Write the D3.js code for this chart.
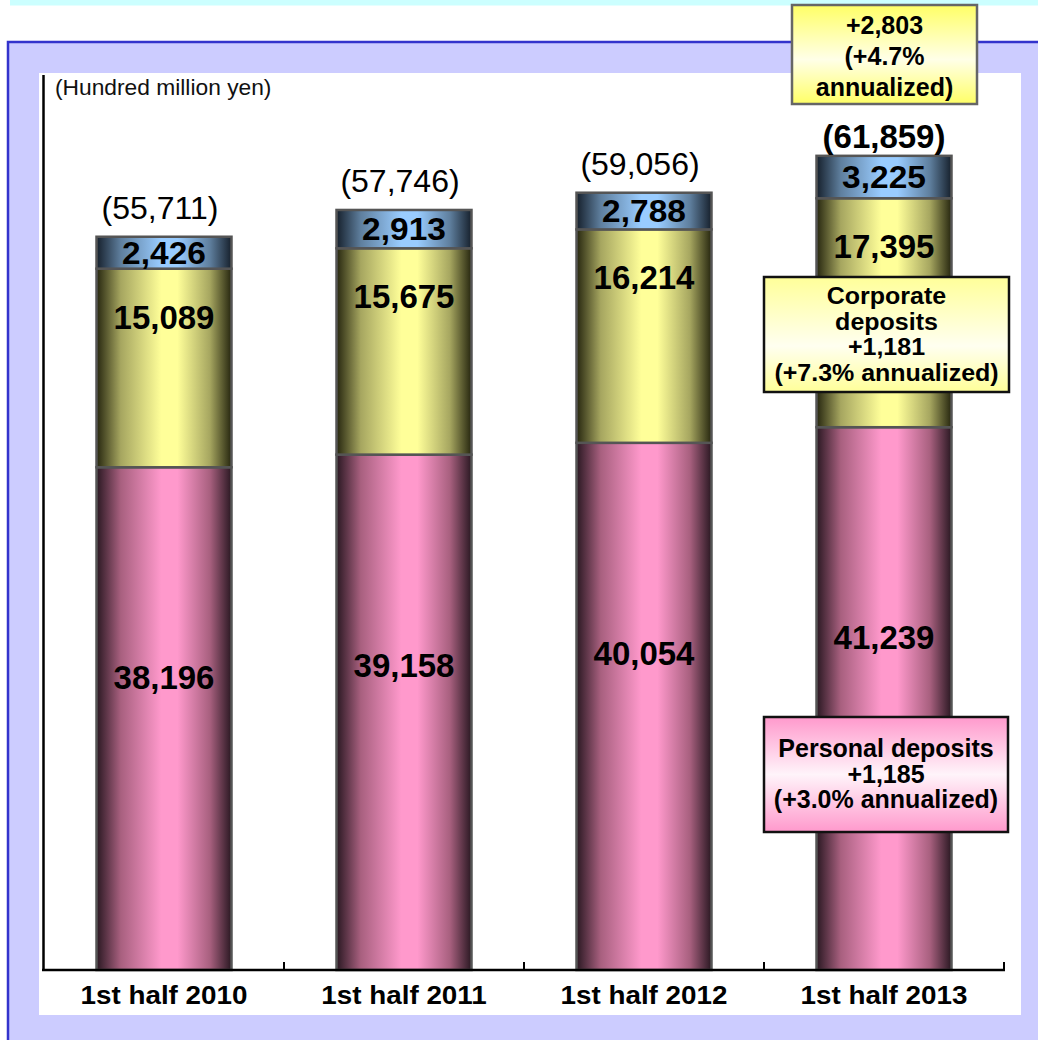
<!DOCTYPE html>
<html>
<head>
<meta charset="utf-8">
<script src="https://cdn.jsdelivr.net/npm/d3@7"></script>
<style>
  html, body { margin: 0; padding: 0; background: #ffffff; }
  svg { display: block; }
  text { font-family: "Liberation Sans", Arial, Helvetica, sans-serif; }
</style>
</head>
<body>
<svg id="chart" width="1038" height="1040"></svg>
<script>
// Deposit balances by half year (hundred million yen)
const categories = ["1st half 2010", "1st half 2011", "1st half 2012", "1st half 2013"];
const personal   = [38196, 39158, 40054, 41239];
const corporate  = [15089, 15675, 16214, 17395];
const other      = [2426, 2913, 2788, 3225];
const totals     = [55711, 57746, 59056, 61859];
const seriesKeys = ["personal", "corporate", "other"];
const unitLabel  = "(Hundred million yen)";

// Annotation texts for the latest half year
const totalNote     = ["+2,803", "(+4.7%", "annualized)"];
const corporateNote = ["Corporate", "deposits", "+1,181", "(+7.3% annualized)"];
const personalNote  = ["Personal deposits", "+1,185", "(+3.0% annualized)"];

const fmt = d3.format(",");
const svg = d3.select("#chart");
const defs = svg.append("defs");

// Cylinder-like horizontal shading for each series
const shades = {
  personal:  { light: "#ff99cc", mid: "#a8607f", dark: "#2a1822" },
  corporate: { light: "#ffff99", mid: "#a6a660", dark: "#26260f" },
  other:     { light: "#99ccff", mid: "#5f7f9e", dark: "#16202c" }
};
Object.entries(shades).forEach(([k, c]) => {
  const g = defs.append("linearGradient").attr("id", "grad-" + k)
    .attr("x1", "0%").attr("x2", "100%").attr("y1", "0%").attr("y2", "0%");
  [[0, c.dark], [0.18, c.mid], [0.48, c.light], [0.6, c.light], [0.84, c.mid], [1, c.dark]]
    .forEach(([o, col]) => g.append("stop").attr("offset", o).attr("stop-color", col));
});

// Vertical gradients for the note boxes
function vGrad(id, edge, centre, at) {
  const g = defs.append("linearGradient").attr("id", id)
    .attr("x1", "0%").attr("x2", "0%").attr("y1", "0%").attr("y2", "100%");
  [[0, edge], [at, centre], [1, edge]]
    .forEach(([o, col]) => g.append("stop").attr("offset", o).attr("stop-color", col));
}
vGrad("note-total", "#ffff66", "#ffffe8", 0.55);
vGrad("note-corp", "#ffff99", "#fffff0", 0.6);
vGrad("note-pers", "#ff99cc", "#fff4fa", 0.5);

// Page background decoration
svg.append("rect").attr("x", 10).attr("y", 0).attr("width", 1028).attr("height", 5.5).attr("fill", "#ccffff");
svg.append("rect").attr("x", 8).attr("y", 42).attr("width", 1040).attr("height", 1010)
  .attr("fill", "#ccccff").attr("stroke", "#3333cc").attr("stroke-width", 2.5);
svg.append("rect").attr("x", 39).attr("y", 73).attr("width", 982).attr("height", 942).attr("fill", "#ffffff");

// Scales
const x = d3.scaleBand().domain(categories).range([44, 1004]).paddingInner(0.4375).paddingOuter(0.21875);
const y = d3.scaleLinear().domain([0, 68000]).range([970, 75]);

const rows = categories.map((c, i) => ({ cat: c, personal: personal[i], corporate: corporate[i], other: other[i] }));
const stacked = d3.stack().keys(seriesKeys)(rows);

// Bars
const g = svg.append("g");
stacked.forEach(layer => {
  g.selectAll(null).data(layer).join("rect")
    .attr("x", d => x(d.data.cat))
    .attr("width", x.bandwidth())
    .attr("y", d => y(d[1]))
    .attr("height", d => y(d[0]) - y(d[1]))
    .attr("fill", `url(#grad-${layer.key})`)
    .attr("stroke", "#555555")
    .attr("stroke-width", 2.5);
});

// Helper for text that is slightly widened
function label(parent, txt, cx, baseline, size, weight, sx) {
  return parent.append("text")
    .attr("transform", `translate(${cx},${baseline}) scale(${sx || 1},1)`)
    .attr("text-anchor", "middle")
    .attr("font-size", size)
    .attr("font-weight", weight)
    .attr("fill", "#000")
    .text(txt);
}

// Segment value labels
const lg = svg.append("g");
stacked.forEach(layer => {
  layer.forEach((d, i) => {
    const cx = x(d.data.cat) + x.bandwidth() / 2;
    const v = d[1] - d[0];
    let base;
    if (layer.key === "personal") base = y(d[1]) + 222;
    else if (layer.key === "corporate") base = y(d[1]) + 60;
    else base = (y(d[0]) + y(d[1])) / 2 + 11;
    if (layer.key === "other") label(lg, fmt(v), cx, base, 31, "bold", 1.08);
    else label(lg, fmt(v), cx, base, 33, "bold", 1);
  });
});

// Totals above bars
totals.forEach((t, i) => {
  const cx = x(categories[i]) + x.bandwidth() / 2;
  const last = i === totals.length - 1;
  label(lg, `(${fmt(t)})`, cx - (last ? 0 : 4), y(t) - (last ? 8 : 18), last ? 33 : 32, last ? "bold" : "normal", 1);
});

// Axes
const axisG = svg.append("g");
axisG.append("line").attr("x1", 43.5).attr("x2", 43.5).attr("y1", 75).attr("y2", 971)
  .attr("stroke", "#000").attr("stroke-width", 2.5);
axisG.append("line").attr("x1", 42).attr("x2", 1005).attr("y1", 970).attr("y2", 970)
  .attr("stroke", "#000").attr("stroke-width", 2.5);
const boundaries = categories.map(c => x(c) - x.step() * x.paddingOuter() + x.step());
boundaries.forEach(bx => {
  axisG.append("line").attr("x1", bx).attr("x2", bx).attr("y1", 970).attr("y2", 962)
    .attr("stroke", "#000").attr("stroke-width", 2);
});
const xAxis = svg.append("g").attr("transform", "translate(0,970)")
  .call(d3.axisBottom(x).tickSize(0).tickPadding(0));
xAxis.select(".domain").remove();
xAxis.selectAll(".tick text").remove();
xAxis.selectAll(".tick").each(function (d) {
  label(d3.select(this), d, 0, 34, 26, "bold", 1.07);
});

// Unit label
svg.append("text").attr("x", 55).attr("y", 95).attr("font-size", 21.5)
  .attr("transform", "translate(55,0) scale(1.06,1) translate(-55,0)")
  .attr("fill", "#111").text(unitLabel);

// Note boxes
function note(x0, y0, w, h, fill, stroke, lines, firstBase, lineGap, size) {
  const ng = svg.append("g");
  ng.append("rect").attr("x", x0).attr("y", y0).attr("width", w).attr("height", h)
    .attr("fill", fill).attr("stroke", stroke).attr("stroke-width", 2.5);
  lines.forEach((t, i) => label(ng, t, x0 + w / 2, firstBase + i * lineGap, size, "bold", size < 25 ? 25 / size : 1));
}
note(792, 5, 185, 99, "url(#note-total)", "#666666", totalNote, 34, 31, 25);
note(764, 277, 245, 115, "url(#note-corp)", "#111111", corporateNote, 304, 25.5, 23.5);
note(764, 717, 244, 115, "url(#note-pers)", "#111111", personalNote, 757, 25.5, 25);
</script>
</body>
</html>
